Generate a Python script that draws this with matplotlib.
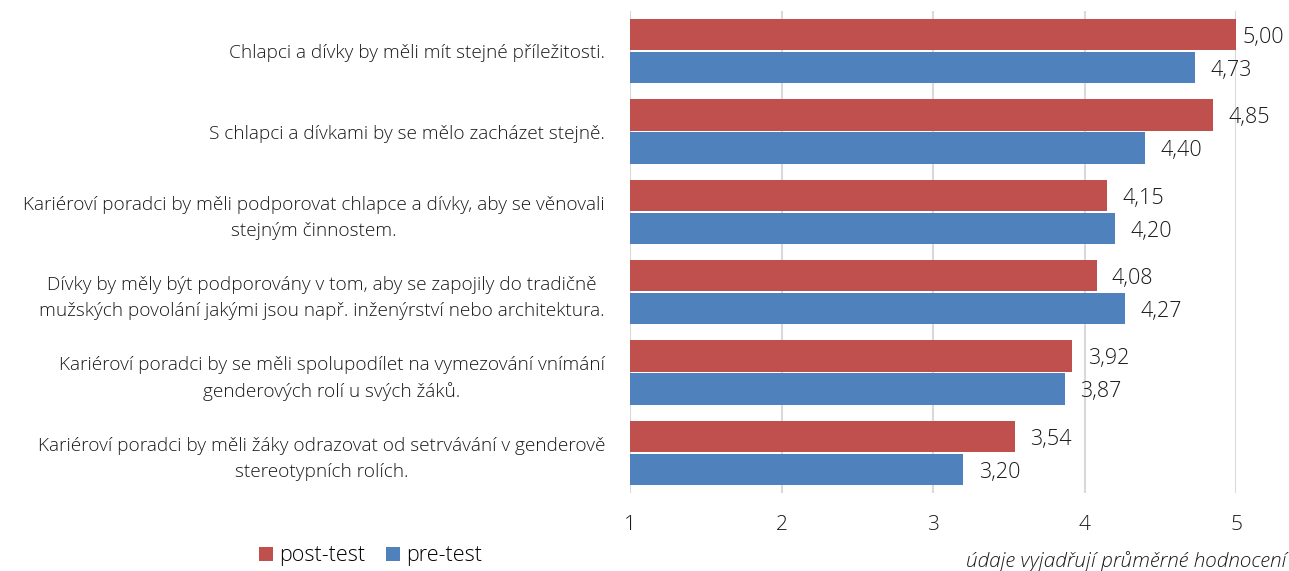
import matplotlib
matplotlib.use("Agg")
import matplotlib.pyplot as plt
import numpy as np

categories = [
    "Chlapci a dívky by měli mít stejné příležitosti.",
    "S chlapci a dívkami by se mělo zacházet stejně.",
    "Kariéroví poradci by měli podporovat chlapce a dívky, aby se věnovali\nstejným činnostem.",
    "Dívky by měly být podporovány v tom, aby se zapojily do tradičně\nmužských povolání jakými jsou např. inženýrství nebo architektura.",
    "Kariéroví poradci by se měli spolupodílet na vymezování vnímání\ngenderových rolí u svých žáků.",
    "Kariéroví poradci by měli žáky odrazovat od setrvávání v genderově\nstereotypních rolích.",
]
post_test = [5.00, 4.85, 4.15, 4.08, 3.92, 3.54]
pre_test = [4.73, 4.40, 4.20, 4.27, 3.87, 3.20]
x_ticks = [1, 2, 3, 4, 5]

RED = "#C0504D"
BLUE = "#4F81BD"
FONT = ["Open Sans", "DejaVu Sans"]
plt.rcParams["font.family"] = FONT
TXT = "#1a1a1a"

fig = plt.figure(figsize=(12.89, 5.71), dpi=100)
ax = fig.add_axes([630/1289, 1-493/571, (1236-630)/1289, (493-11)/571])

y = np.arange(len(categories))
h = 0.39
off = 0.205
base = 1
XMAX = 5
bp = ax.barh(y - off, np.array(post_test) - base, left=base, height=h, color=RED, label="post-test", zorder=3)
bq = ax.barh(y + off, np.array(pre_test) - base, left=base, height=h, color=BLUE, label="pre-test", zorder=3)

def label(yy, v):
    dx = 5 if v >= XMAX else 11
    ax.annotate(f"{v:.2f}".replace(".", ","), (v, yy), xytext=(dx, -2), textcoords="offset points",
                ha="left", va="center", fontsize=15.5, color=TXT, fontweight="light", annotation_clip=False)

for yy, v in zip(y - off, post_test):
    label(yy, v)
for yy, v in zip(y + off, pre_test):
    label(yy, v)

ax.set_xlim(1, XMAX)
ax.set_ylim(len(categories) - 0.5, -0.5)
ax.set_xticks(x_ticks)
ax.set_xticklabels([str(t) for t in x_ticks], fontsize=15, fontweight="light", color=TXT)
ax.set_yticks(y)
ax.set_yticklabels(categories, fontsize=13.7, fontweight="light", color=TXT, multialignment="center")
for t in ax.get_yticklabels():
    t.set_linespacing(1.55)
ax.tick_params(axis="both", length=0)
ax.tick_params(axis="y", pad=18)
ax.tick_params(axis="x", pad=16)
for s in ax.spines.values():
    s.set_visible(False)
ax.grid(axis="x", color="#D9D9D9", linewidth=1.5, zorder=0)
ax.set_axisbelow(True)

fig.legend(handles=[bp, bq], labels=["post-test", "pre-test"], loc="center left",
           bbox_to_anchor=(240/1289, 1-556/571), ncol=2, frameon=False,
           handlelength=0.65, handleheight=0.65, handletextpad=0.25, columnspacing=1.0,
           prop={"family": FONT, "size": 15.5, "weight": "light"})
fig.text(1286/1289, 1-562/571, "údaje vyjadřují průměrné hodnocení", ha="right", va="center",
         fontsize=15, style="italic", fontweight="light", color=TXT)

fig.savefig("out.png", dpi=100)
